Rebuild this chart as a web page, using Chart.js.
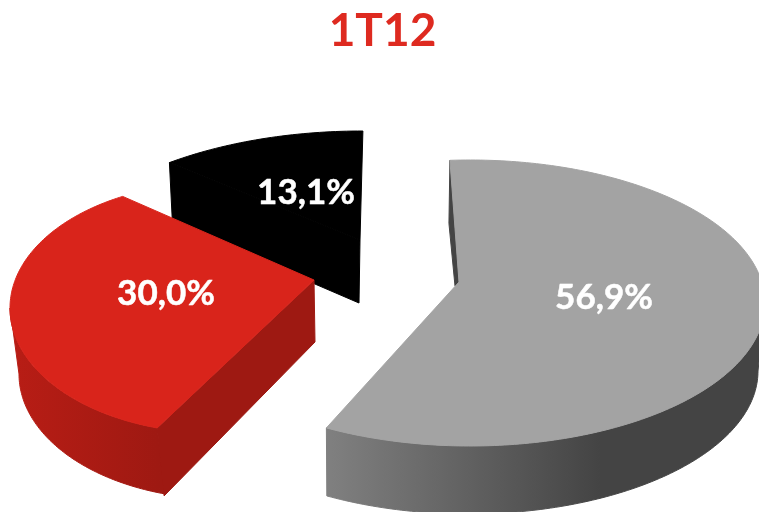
<!DOCTYPE html>
<html>
<head>
<meta charset="utf-8">
<style>html,body{margin:0;padding:0;background:#fff}canvas{display:block}</style>
<script src="https://cdn.jsdelivr.net/npm/chart.js@4"></script>
</head>
<body>
<canvas id="c" width="759" height="512"></canvas>
<script>
const chartTitle = '1T12';
const categories = ['A', 'B', 'C'];
const shares = [56.9, 30.0, 13.1];
const faceColors = ['#a3a3a3', '#d9241b', '#000000'];

// Projection of each exploded wedge: Chart.js has no 3D pie, so the angles the library
// computes for each arc are projected onto a tilted ellipse with an extruded rim.
const views = [
  { top:[470,303,295,143], low:[468,371,290,143], shift:-3.9, from:0, k:1.04, apex:[459,282],
    wall:{apexD:[-4,4], cornerD:[-1,63], color:'#444444'},
    side:[[327,'#808080'],[600,'#444444']], label:[604,298] },
  { top:[215,308,205,125], low:[222,374,203,125], shift:196.4, from:204.84, k:1.267, apex:[314,280],
    wall:{apexD:[1,62], cornerD:[7,68], color:'#9e1912'},
    side:[[12,'#b81d15'],[160,'#9e1912']], label:[166,294] },
  { top:[362,288,320,157], low:null, shift:323, from:312.84, k:0.788, apex:[360,240],
    wall:{apexD:[-1,63], cornerD:[3,60], color:'#000000'},
    side:null, label:[306,193] }
];

const DEG = Math.PI / 180;
const pt = (e, phi) => [e[0] + e[2] * Math.sin(phi * DEG), e[1] - e[3] * Math.cos(phi * DEG)];
function poly(ctx, pts, fill) {
  ctx.beginPath();
  pts.forEach((p, i) => i ? ctx.lineTo(p[0], p[1]) : ctx.moveTo(p[0], p[1]));
  ctx.closePath();
  ctx.fillStyle = fill;
  ctx.strokeStyle = fill;
  ctx.lineWidth = 1;
  ctx.lineJoin = 'round';
  ctx.fill();
  ctx.stroke();
}
function range(a, b) {
  const out = [];
  const n = Math.max(2, Math.ceil(Math.abs(b - a)));
  for (let i = 0; i <= n; i++) out.push(a + (b - a) * i / n);
  return out;
}

const pie3d = {
  id: 'pie3d',
  beforeDatasetDraw(chart, args) {
    const ctx = chart.ctx;
    const meta = chart.getDatasetMeta(args.index);
    const ds = chart.data.datasets[args.index];
    ctx.save();
    for (let i = meta.data.length - 1; i >= 0; i--) {
      const el = meta.data[i], v = views[i];
      const t0 = (el.startAngle + Math.PI / 2) / DEG, t1 = (el.endAngle + Math.PI / 2) / DEG;
      const p0 = v.shift + (t0 - v.from) * v.k, p1 = v.shift + (t1 - v.from) * v.k;
      const w = v.wall;
      const corner = pt(v.top, p0);
      // rim
      if (v.low) {
        const a = Math.max(p0, 90), b = Math.min(p1, 270);
        const g = ctx.createLinearGradient(v.side[0][0], 0, v.side[1][0], 0);
        v.side.forEach((s, j) => g.addColorStop(j, s[1]));
        const ph = range(a, b);
        poly(ctx, ph.map(q => pt(v.top, q)).concat(ph.slice().reverse().map(q => pt(v.low, q))), g);
      }
      // cut wall
      poly(ctx, [v.apex, [v.apex[0] + w.apexD[0], v.apex[1] + w.apexD[1]],
        [corner[0] + w.cornerD[0], corner[1] + w.cornerD[1]], corner], w.color);
      // top face
      poly(ctx, [v.apex].concat(range(p0, p1).map(q => pt(v.top, q))), ds.backgroundColor[i]);
    }
    // labels
    ctx.fillStyle = '#ffffff';
    ctx.strokeStyle = '#ffffff';
    ctx.lineWidth = 0.5;
    ctx.font = 'bold 35px Lato, "Open Sans", sans-serif';
    ctx.textAlign = 'center';
    ctx.textBaseline = 'middle';
    ds.data.forEach((val, i) => {
      const s = val.toFixed(1).replace('.', ',') + '%';
      ctx.fillText(s, views[i].label[0], views[i].label[1]);
      ctx.strokeText(s, views[i].label[0], views[i].label[1]);
    });
    ctx.restore();
    return false;
  }
};

new Chart(document.getElementById('c'), {
  type: 'pie',
  data: { labels: categories, datasets: [{ data: shares, backgroundColor: faceColors, borderWidth: 0 }] },
  options: {
    responsive: false,
    animation: false,
    layout: { padding: { left: 6 } },
    plugins: {
      legend: { display: false },
      tooltip: { enabled: false },
      title: {
        display: true,
        text: chartTitle,
        color: '#de2a20',
        font: { family: 'Lato, "Open Sans", sans-serif', size: 46, weight: 'bold' },
        padding: { top: 4, bottom: 10 }
      }
    }
  },
  plugins: [pie3d]
});
</script>
</body>
</html>
